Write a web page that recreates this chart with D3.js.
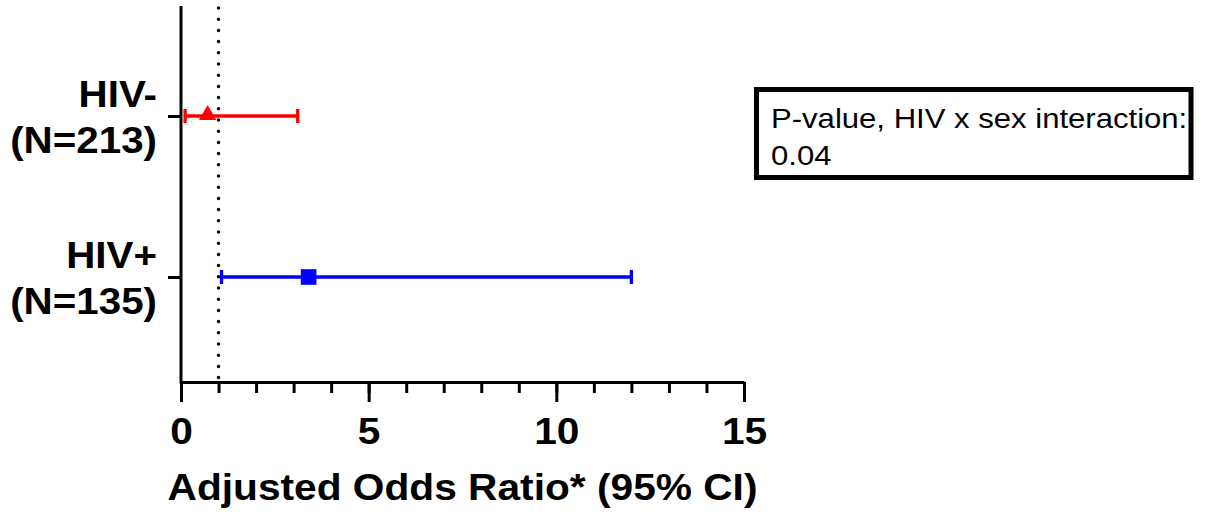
<!DOCTYPE html>
<html>
<head>
<meta charset="utf-8">
<script src="https://cdn.jsdelivr.net/npm/d3@7"></script>
<style>
  body { margin: 0; background: #fff; }
  text { font-family: "Liberation Sans", Arial, sans-serif; }
</style>
</head>
<body>
<script>
// data
const groups = ['HIV-', 'HIV+'];
const counts = ['(N=213)', '(N=135)'];
const estimates = [0.71, 3.4];
const lower = [0.11, 1.08];
const upper = [3.11, 12.0];
const colors = ['#ff0000', '#0000ff'];
const symbols = [d3.symbolTriangle, d3.symbolSquare];
const xTicks = [0, 5, 10, 15];
const refLine = 1;
const note = ['P-value, HIV x sex interaction:', '0.04'];

const width = 1207;
const height = 516;
// the original figure is a bit wider than tall, text is stretched to match
const stretch = 1.13;

const svg = d3.select('body').append('svg')
  .attr('width', width)
  .attr('height', height);

const plot = { left: 181, right: 744, top: 6, bottom: 382 };

const x = d3.scaleLinear().domain([0, 15]).range([plot.left, plot.right]);
const y = d3.scalePoint().domain(groups).range([116, 277]);

// widen a text node horizontally
function widen(sel, f) {
  sel.each(function () {
    const len = this.getComputedTextLength();
    d3.select(this).attr('textLength', len * f).attr('lengthAdjust', 'spacingAndGlyphs');
  });
}

// x axis: minor ticks at every integer, major every 5
const minor = d3.axisBottom(x).tickValues(d3.range(0, 16)).tickSize(11).tickFormat('');
svg.append('g').attr('transform', `translate(0,${plot.bottom})`).call(minor)
  .call(g => g.select('.domain').remove())
  .selectAll('line').attr('stroke', '#000').attr('stroke-width', 3);

const xAxis = d3.axisBottom(x).tickValues(xTicks).tickSize(20).tickPadding(16).tickSizeOuter(0);
const gx = svg.append('g').attr('transform', `translate(0,${plot.bottom})`).call(xAxis);
gx.select('.domain').attr('stroke', '#000').attr('stroke-width', 3);
gx.selectAll('line').attr('stroke', '#000').attr('stroke-width', 3);
gx.selectAll('text')
  .attr('fill', '#000')
  .style('font-size', '36px')
  .style('font-weight', 'bold')
  .attr('dy', '0.71em')
  .call(widen, stretch);

// y axis
svg.append('line')
  .attr('x1', plot.left).attr('x2', plot.left)
  .attr('y1', plot.top).attr('y2', plot.bottom + 1.5)
  .attr('stroke', '#000').attr('stroke-width', 3);

const yAxis = d3.axisLeft(y).tickSize(13).tickFormat('');
svg.append('g').attr('transform', `translate(${plot.left},0)`).call(yAxis)
  .call(g => g.select('.domain').remove())
  .selectAll('line').attr('stroke', '#000').attr('stroke-width', 3);

// category labels, two lines each
const labels = svg.append('g').selectAll('text')
  .data(groups)
  .join('text')
  .attr('text-anchor', 'end')
  .style('font-size', '37px')
  .style('font-weight', 'bold');
labels.append('tspan').attr('x', 157).attr('y', d => y(d) - 9).text(d => d);
labels.append('tspan').attr('x', 157).attr('y', d => y(d) + 37).text((d, i) => counts[i]);
labels.selectAll('tspan').call(widen, 1.09);

// reference line at OR = 1
svg.append('line')
  .attr('x1', x(refLine)).attr('x2', x(refLine))
  .attr('y1', plot.top + 2).attr('y2', plot.bottom)
  .attr('stroke', '#000')
  .attr('stroke-width', 3.5)
  .attr('stroke-linecap', 'round')
  .attr('stroke-dasharray', '0 11.2');

// error bars
const bars = svg.append('g').selectAll('g')
  .data(groups)
  .join('g')
  .attr('stroke', (d, i) => colors[i])
  .attr('stroke-width', 3.3);
bars.append('line')
  .attr('x1', (d, i) => x(lower[i])).attr('x2', (d, i) => x(upper[i]))
  .attr('y1', d => y(d)).attr('y2', d => y(d));
bars.append('line')
  .attr('x1', (d, i) => x(lower[i])).attr('x2', (d, i) => x(lower[i]))
  .attr('y1', d => y(d) - 7).attr('y2', d => y(d) + 7);
bars.append('line')
  .attr('x1', (d, i) => x(upper[i])).attr('x2', (d, i) => x(upper[i]))
  .attr('y1', d => y(d) - 7).attr('y2', d => y(d) + 7);

// point estimates
svg.append('g').selectAll('path')
  .data(groups)
  .join('path')
  .attr('d', (d, i) => d3.symbol().type(symbols[i]).size(i === 0 ? 130 : 245)())
  .attr('transform', (d, i) => `translate(${x(estimates[i])},${y(d) - (i === 0 ? 1 : 0)})`)
  .attr('fill', (d, i) => colors[i]);

// x axis title
svg.append('text')
  .attr('x', (plot.left + plot.right) / 2)
  .attr('y', 500)
  .attr('text-anchor', 'middle')
  .style('font-size', '36px')
  .style('font-weight', 'bold')
  .text('Adjusted Odds Ratio* (95% CI)')
  .call(widen, stretch);

// p-value box
svg.append('rect')
  .attr('x', 756.5).attr('y', 89.5)
  .attr('width', 434.5).attr('height', 88)
  .attr('fill', '#fff')
  .attr('stroke', '#000')
  .attr('stroke-width', 5);
svg.append('g').selectAll('text')
  .data(note)
  .join('text')
  .attr('x', 771)
  .attr('y', (d, i) => 128 + i * 37)
  .style('font-size', '27.5px')
  .text(d => d)
  .call(widen, stretch);
</script>
</body>
</html>
